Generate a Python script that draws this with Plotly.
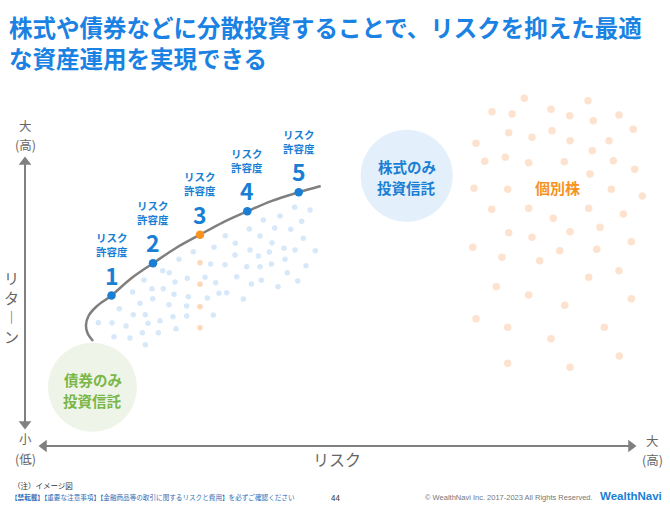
import plotly.graph_objects as go

JP = "Noto Sans CJK JP"

# ---- data (schematic positions on a risk / return canvas) ----
frontier_x = [93, 87.5, 86, 88.5, 96.5, 111.5, 131, 153, 176, 200, 223, 247.3, 272, 298.7, 320.7]
frontier_y = [341, 333, 325, 316, 306.5, 295.5, 278.5, 263.3, 248, 234.7, 222.3, 211.3, 200.8, 192.3, 186]

level_names = ["1", "2", "3", "4", "5"]
level_x = [111.5, 153, 200, 247.3, 298.7]
level_y = [295.5, 263.3, 234.7, 211.3, 192.3]
level_colors = ["#1a7fd4", "#1a7fd4", "#f7931e", "#1a7fd4", "#1a7fd4"]

fund_x = [98.3, 112, 126, 114, 130, 145.3, 119.3, 133.3, 140, 132.7, 145.3, 148, 142.3, 158.3, 160,
          152.7, 144, 152, 163.3, 162.7, 169.3, 175, 174, 169, 173, 176, 186.7, 186.7, 188.3, 187.3,
          179, 193.3, 205, 207.3, 210.7, 215.7, 213.3, 219, 225, 225.3, 214, 226.7, 236.7, 235.3, 235,
          249.3, 246.7, 250, 258.3, 243.3, 251.3, 260, 260, 263.3, 261.3, 271.3, 269.3, 274.7, 280, 272,
          284, 278, 285, 287.3, 295, 290.7, 297.7, 294.7, 301.7, 303.3, 306, 310, 315.3]
fund_y = [322.7, 322.7, 326, 336.7, 338, 344.7, 308.7, 314.7, 303.3, 292, 314.7, 323.3, 332.7, 332.7, 320.7,
          298.7, 280, 288.7, 288.7, 270.7, 272.7, 282, 294.3, 304.7, 316.7, 328.7, 316, 306, 296.7, 278.3,
          259.3, 251.7, 277.3, 298, 264, 282.7, 315, 293.3, 264.7, 235.7, 247.3, 292.7, 276.7, 243.3, 255,
          229, 266.7, 250, 256, 299, 284, 266.7, 236, 220, 280.3, 264, 252, 228, 216, 242.7,
          248.3, 286.7, 259.3, 272.7, 250, 229.3, 281, 207.3, 221.3, 238.3, 265.7, 210, 250.7]

mid_x = [200, 200, 200, 200]
mid_y = [262.7, 284.3, 306.7, 327.7]

stock_x = [524.3, 588, 492, 512, 551, 569.7, 619, 593.3, 508.7, 532, 552, 570, 633.3, 609, 476,
           592.3, 484.7, 505.3, 528.7, 564.3, 613.3, 634.7, 590, 474, 507.7, 611.3, 642.3, 491.7, 528.7, 553.3,
           588.7, 623.3, 508.7, 532, 570, 600, 472.7, 502, 539.7, 559.7, 596.7, 631.3, 496.3, 528.7, 564.7,
           588.7, 619, 631.3, 476, 507.7, 551, 604.3, 619.3, 507.7, 570]
stock_y = [98.3, 100.7, 111.7, 114, 109.3, 115.7, 115, 120.7, 132.7, 137.3, 130.7, 140.7, 129.3, 140.7, 143.3,
           150.7, 161.3, 157.3, 162.7, 161.7, 160.7, 169.3, 174, 188.3, 189.3, 189.3, 196, 209.3, 208.3, 218.3,
           208.3, 214, 232.7, 237.3, 231.7, 227.3, 247.3, 257.3, 260.7, 250.7, 249.3, 241.7, 286.7, 295, 305.3,
           277.3, 270.7, 298.7, 318.7, 327.3, 338.7, 327.3, 356, 363.3, 367.3]

# axis ends: return axis (vertical) and risk axis (horizontal)
ret_axis_x = [25, 25]
ret_axis_y = [157, 429]
risk_axis_x = [39, 636]
risk_axis_y = [446, 446]

fig = go.Figure()

# light clouds
fig.add_trace(go.Scatter(x=stock_x, y=stock_y, mode="markers",
                         marker=dict(size=7.5, color="#fde3cf"), hoverinfo="skip"))
fig.add_trace(go.Scatter(x=fund_x, y=fund_y, mode="markers",
                         marker=dict(size=5.5, color="#d7e9f9"), hoverinfo="skip"))
fig.add_trace(go.Scatter(x=mid_x, y=mid_y, mode="markers",
                         marker=dict(size=5.5, color="#fcd8b8"), hoverinfo="skip"))

# frontier
fig.add_trace(go.Scatter(x=frontier_x, y=frontier_y, mode="lines",
                         line=dict(color="#7f7f7f", width=2.5, shape="spline", smoothing=1.0),
                         hoverinfo="skip"))
fig.add_trace(go.Scatter(x=level_x, y=level_y, mode="markers",
                         marker=dict(size=8.5, color=level_colors), hoverinfo="skip"))

# axes as lines with triangle heads
AX = "#808080"
fig.add_trace(go.Scatter(x=[ret_axis_x[0], ret_axis_x[1]], y=[ret_axis_y[0] + 6, ret_axis_y[1] - 6],
                         mode="lines", line=dict(color=AX, width=2), hoverinfo="skip"))
fig.add_trace(go.Scatter(x=[risk_axis_x[0] + 6, risk_axis_x[1] - 6], y=risk_axis_y,
                         mode="lines", line=dict(color=AX, width=2), hoverinfo="skip"))
fig.add_trace(go.Scatter(
    x=[ret_axis_x[0], ret_axis_x[1], risk_axis_x[0] + 5, risk_axis_x[1] - 5],
    y=[ret_axis_y[0] + 5, ret_axis_y[1] - 5, risk_axis_y[0], risk_axis_y[1]],
    mode="markers",
    marker=dict(symbol=["triangle-up", "triangle-down", "triangle-left", "triangle-right"],
                size=11, color=AX, line=dict(width=0)),
    hoverinfo="skip"))

# circles
fig.add_shape(type="circle", x0=360.7, x1=452.7, y0=129.7, y1=221.7,
              fillcolor="#e3f0fb", line=dict(width=0), layer="below")
fig.add_shape(type="circle", x0=48, x1=137, y0=342.8, y1=431.8,
              fillcolor="#eef5e8", line=dict(width=0), layer="below")

ann = []
def txt(x, y, s, size, color, bold=False, xanchor="center", family=JP):
    ann.append(dict(x=x, y=y, text=(f"<b>{s}</b>" if bold else s), showarrow=False,
                    xanchor=xanchor, yanchor="middle", align=("left" if xanchor == "left" else "center"),
                    font=dict(family=family, size=size, color=color)))

# title
txt(7, 42.5, "株式や債券などに分散投資することで、リスクを抑えた最適<br>な資産運用を実現できる",
    23.5, "#1a82e2", True, "left")

# level labels
for nm, lx, ly in zip(level_names, level_x, level_y):
    txt(lx, ly - 51, "リスク<br>許容度", 10.5, "#1a7fd4", True)
    txt(lx, ly - 21, nm, 23, "#1a7fd4", True)

txt(406.7, 166.5, "株式のみ", 14.5, "#1a7fd4", True)
txt(406.7, 187.5, "投資信託", 14.5, "#1a7fd4", True)
txt(92.5, 379, "債券のみ", 14.5, "#7ab648", True)
txt(92.5, 400, "投資信託", 14.5, "#7ab648", True)
txt(557, 187.5, "個別株", 15, "#f7931e", True)

# axis labels
txt(25, 125, "大", 12.5, "#666666")
txt(25, 144, "(高)", 12.5, "#666666")
txt(25, 438, "小", 12.5, "#666666")
txt(25, 458, "(低)", 12.5, "#666666")
txt(652, 440, "大", 12.5, "#666666")
txt(652, 459, "(高)", 12.5, "#666666")
txt(336.5, 459, "リスク", 16, "#666666")
txt(11, 307, "リ<br>タ<br>︱<br>ン", 15, "#666666")

# footer
txt(11, 485, "（注）イメージ図", 7.5, "#333333", False, "left")
txt(9, 497, "<b>【禁転載】</b>【重要な注意事項】【金融商品等の取引に関するリスクと費用】を必ずご確認ください",
    6.6, "#2f6db5", False, "left")
txt(335, 497, "44", 8, "#333333")
txt(423, 497, "© WealthNavi Inc. 2017-2023 All Rights Reserved.", 7.5, "#777777", False, "left",
    "Liberation Sans")
ann.append(dict(x=664, y=496, text="<b>WealthNavi</b>", showarrow=False, xanchor="right",
                yanchor="middle", font=dict(family="Liberation Sans", size=11.5, color="#1a7fd4")))

fig.update_layout(
    width=670, height=505, margin=dict(l=0, r=0, t=0, b=0),
    paper_bgcolor="white", plot_bgcolor="white", showlegend=False,
    xaxis=dict(range=[0, 670], visible=False, fixedrange=True),
    yaxis=dict(range=[505, 0], visible=False, fixedrange=True),
    annotations=ann,
)

fig.write_html("out.html", config={"displayModeBar": False},
               post_script="document.body.style.margin='0';document.body.style.overflow='hidden';")
